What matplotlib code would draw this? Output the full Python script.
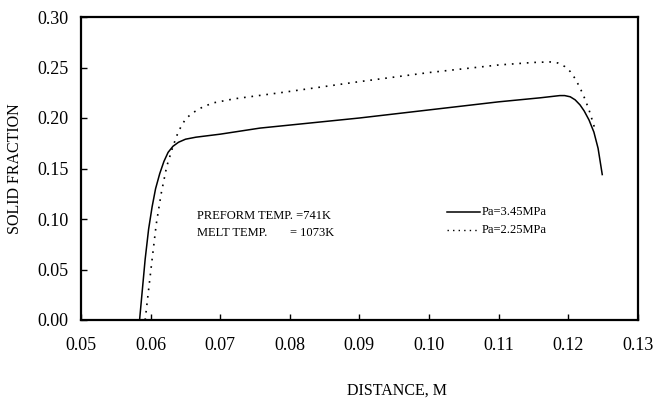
import matplotlib
matplotlib.use("Agg")
import matplotlib.pyplot as plt

plt.rcParams['font.family'] = ['Liberation Serif', 'DejaVu Serif']

# Pa = 3.45 MPa (solid line)
x_345 = [0.0584, 0.0588, 0.0592, 0.0597, 0.0602, 0.0607, 0.0613, 0.0619, 0.0625,
         0.0632, 0.0640, 0.0650, 0.0665, 0.0700, 0.0757, 0.0900, 0.1000, 0.1100,
         0.1160, 0.1188, 0.1195, 0.1203, 0.1210, 0.1217, 0.1223, 0.1230, 0.1237,
         0.1243, 0.1249]
y_345 = [0.000, 0.030, 0.060, 0.090, 0.112, 0.130, 0.145, 0.157, 0.166,
         0.172, 0.176, 0.179, 0.181, 0.184, 0.190, 0.200, 0.208, 0.216,
         0.220, 0.2222, 0.2222, 0.221, 0.218, 0.213, 0.207, 0.198, 0.186,
         0.170, 0.144]

# Pa = 2.25 MPa (dotted line)
x_225 = [0.0592, 0.0597, 0.0602, 0.0608, 0.0615, 0.0623, 0.0632, 0.0640, 0.0650,
         0.0660, 0.0675, 0.0690, 0.0720, 0.0786, 0.0900, 0.1000, 0.1100, 0.1150,
         0.1174, 0.1185, 0.1195, 0.1203, 0.1210, 0.1217, 0.1224, 0.1230, 0.1235,
         0.1239]
y_225 = [0.000, 0.030, 0.060, 0.095, 0.125, 0.152, 0.172, 0.187, 0.199,
         0.205, 0.211, 0.215, 0.219, 0.225, 0.236, 0.245, 0.2525, 0.255,
         0.2555, 0.2545, 0.251, 0.246, 0.239, 0.230, 0.219, 0.208, 0.197,
         0.188]

x_ticks = [0.05, 0.06, 0.07, 0.08, 0.09, 0.10, 0.11, 0.12, 0.13]
y_ticks = [0.00, 0.05, 0.10, 0.15, 0.20, 0.25, 0.30]

fig = plt.figure(figsize=(6.65, 4.0), dpi=100)
ax = fig.add_axes([0.122, 0.20, 0.837, 0.7575])

ax.plot(x_345, y_345, color='black', lw=1.1)
ax.plot(x_225, y_225, color='black', lw=1.2, linestyle=(0, (1, 3.5)))

ax.set_xlim(0.05, 0.13)
ax.set_ylim(0.0, 0.30)
ax.set_xticks(x_ticks)
ax.set_yticks(y_ticks)
ax.set_xticklabels(['%.2f' % v for v in x_ticks])
ax.set_yticklabels(['%.2f' % v for v in y_ticks])
ax.tick_params(axis='both', direction='in', length=4, width=1, labelsize=13,
               top=False, right=False)
ax.tick_params(axis='x', pad=12)
ax.tick_params(axis='y', pad=9)
for s in ax.spines.values():
    s.set_linewidth(1.6)

ax.set_ylabel('SOLID FRACTION', fontsize=11.5, labelpad=10)
fig.text(0.597, 0.0225, 'DISTANCE, M', fontsize=11.5, ha='center', va='center')

# process conditions
ax.text(0.0667, 0.103, 'PREFORM TEMP. =741K', fontsize=9, va='center')
ax.text(0.0667, 0.086, 'MELT TEMP.', fontsize=9, va='center')
ax.text(0.0800, 0.086, '= 1073K', fontsize=9, va='center')

# legend drawn by hand
ax.plot([0.1026, 0.1074], [0.107, 0.107], color='black', lw=1.1)
ax.plot([0.1026, 0.1074], [0.089, 0.089], color='black', lw=1.0, linestyle=(0, (1, 3)))
ax.text(0.1076, 0.107, 'Pa=3.45MPa', fontsize=9, va='center')
ax.text(0.1076, 0.089, 'Pa=2.25MPa', fontsize=9, va='center')

fig.savefig('out.png', dpi=100)
